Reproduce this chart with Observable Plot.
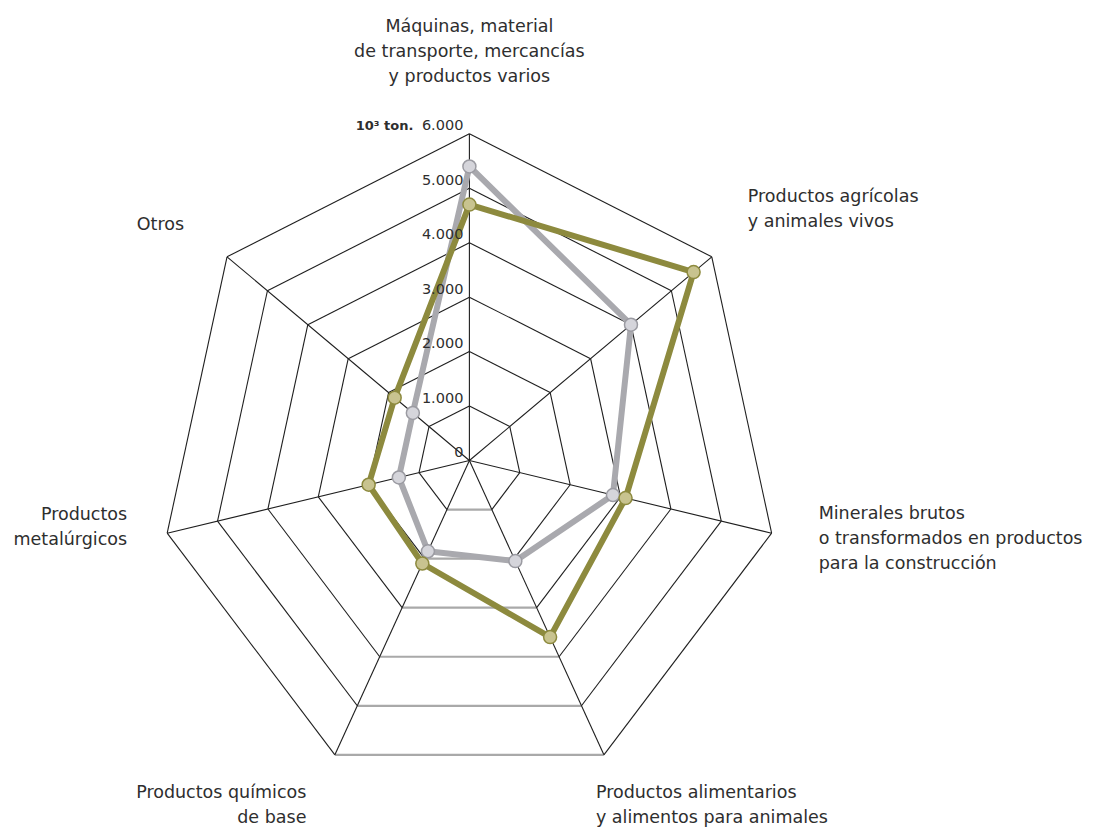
<!DOCTYPE html>
<html>
<head>
<meta charset="utf-8">
<script src="https://cdn.jsdelivr.net/npm/d3@7"></script>
<script src="https://cdn.jsdelivr.net/npm/@observablehq/plot@0.6"></script>
<style>
  html, body { margin: 0; padding: 0; background: #fff; }
  #chart svg { display: block; }
</style>
</head>
<body>
<div id="chart"></div>
<script>
// ---- data ----
const categories = [
  "Máquinas, material\nde transporte, mercancías\ny productos varios",
  "Productos agrícolas\ny animales vivos",
  "Minerales brutos\no transformados en productos\npara la construcción",
  "Productos alimentarios\ny alimentos para animales",
  "Productos químicos\nde base",
  "Productos\nmetalúrgicos",
  "Otros"
];
const seriesGray  = [5400, 4000, 2850, 2050, 1850, 1400, 1400];
const seriesOlive = [4700, 5550, 3100, 3600, 2100, 2000, 1850];
const ringValues  = [1000, 2000, 3000, 4000, 5000, 6000];
const tickValues  = [0, 1000, 2000, 3000, 4000, 5000, 6000];
const tickLabels  = ["0", "1.000", "2.000", "3.000", "4.000", "5.000", "6.000"];
const unitLabel   = "10³ ton.";

// ---- layout (not data) ----
const labelLayout = [
  {anchor: "middle", dx: 0,     dy: -85},
  {anchor: "start",  dx: 36,    dy: -50},
  {anchor: "start",  dx: 47,    dy: 3},
  {anchor: "start",  dx: -8,    dy: 48},
  {anchor: "end",    dx: -28.5, dy: 48},
  {anchor: "end",    dx: -40,   dy: -9},
  {anchor: "end",    dx: -43,   dy: -35}
];

const n = categories.length;
const ang = i => (i % n) * 2 * Math.PI / n;
const px = (v, i) => v * Math.sin(ang(i));
const py = (v, i) => v * Math.cos(ang(i));

// ring edges
const edges = [];
for (const r of ringValues) {
  for (let i = 0; i < n; i++) {
    edges.push({x1: px(r, i), y1: py(r, i), x2: px(r, i + 1), y2: py(r, i + 1), bottom: i === 3});
  }
}
const spokes = categories.map((c, i) => ({x1: 0, y1: 0, x2: px(6000, i), y2: py(6000, i)}));

const pts = vals => vals.map((v, i) => ({x: px(v, i), y: py(v, i)}));
const grayPts = pts(seriesGray);
const olivePts = pts(seriesOlive);
const closed = a => [...a, a[0]];

const labels = categories.map((c, i) => ({text: c, x: px(6000, i), y: py(6000, i), ...labelLayout[i]}));
const ticks = tickValues.map((v, i) => ({x: 0, y: v, text: tickLabels[i]}));

const cx = 468.9, cy = 460, rx = 310, ry = 326.7;
const font = "DejaVu Sans";

const labelMarks = labels.map(l => Plot.text([l], {
  x: "x", y: "y", text: "text",
  textAnchor: l.anchor, lineAnchor: "middle",
  dx: l.dx, dy: l.dy,
  fontSize: 17.5, lineHeight: 1.42, fill: "#2e2e2e", fontFamily: font, letterSpacing: -0.2
}));

const chart = Plot.plot({
  width: 1093,
  height: 836,
  margin: 0,
  x: {domain: [-6000, 6000], range: [cx - rx, cx + rx], axis: null},
  y: {domain: [-6000, 6000], range: [cy + ry, cy - ry], axis: null},
  style: {background: "#fff", fontFamily: font},
  marks: [
    Plot.link(edges.filter(d => !d.bottom), {x1: "x1", y1: "y1", x2: "x2", y2: "y2", stroke: "#1e1e1e", strokeWidth: 1.1}),
    Plot.link(edges.filter(d => d.bottom), {x1: "x1", y1: "y1", x2: "x2", y2: "y2", stroke: "#a9a9a9", strokeWidth: 2.2}),
    Plot.link(spokes, {x1: "x1", y1: "y1", x2: "x2", y2: "y2", stroke: "#1e1e1e", strokeWidth: 1.1}),
    Plot.line(closed(grayPts), {x: "x", y: "y", stroke: "#a9a9ae", strokeWidth: 6, strokeLinejoin: "round", curve: "linear"}),
    Plot.dot(grayPts, {x: "x", y: "y", r: 6.5, fill: "#d5d5db", stroke: "#9b9ba2", strokeWidth: 1.5}),
    Plot.line(closed(olivePts), {x: "x", y: "y", stroke: "#8d8a3e", strokeWidth: 6, strokeLinejoin: "round", curve: "linear"}),
    Plot.dot(olivePts, {x: "x", y: "y", r: 6.5, fill: "#c8c38f", stroke: "#8d8a3e", strokeWidth: 1.5}),
    Plot.text(ticks, {x: "x", y: "y", text: "text", textAnchor: "end", dx: -6, dy: -8, fontSize: 14.5, fill: "#2e2e2e", fontFamily: font, letterSpacing: -0.9}),
    Plot.text([{x: 0, y: 6000, t: unitLabel}], {x: "x", y: "y", text: "t", textAnchor: "end", dx: -56, dy: -8, fontSize: 13, fontWeight: "bold", fill: "#2e2e2e", fontFamily: font, letterSpacing: -0.4}),
    ...labelMarks
  ]
});
document.getElementById("chart").appendChild(chart);
</script>
</body>
</html>
